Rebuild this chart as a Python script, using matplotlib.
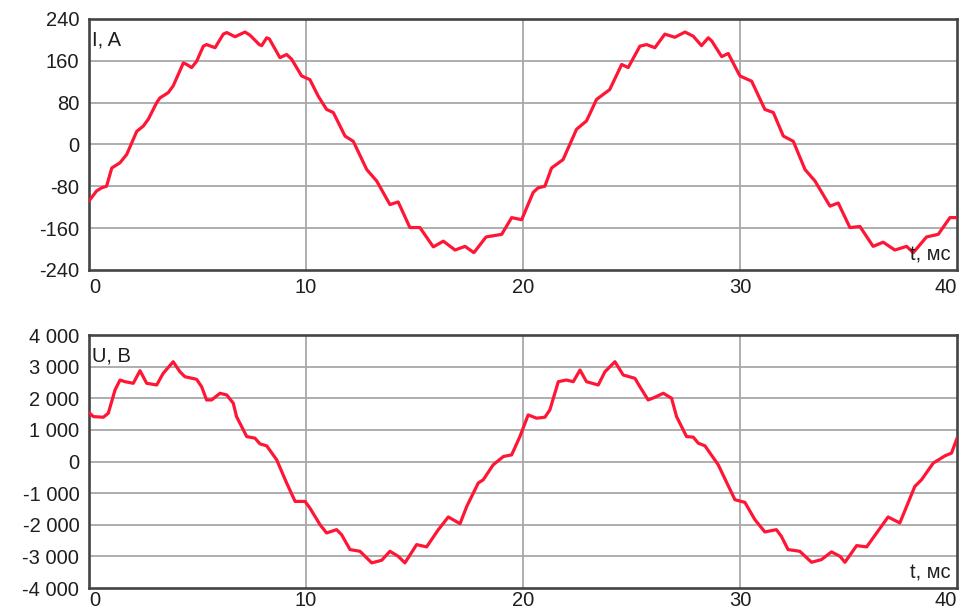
import matplotlib
matplotlib.use('Agg')
import matplotlib.pyplot as plt

# current
t_i = [0, 0.35, 0.58, 0.81, 1.05, 1.43, 1.74, 1.97, 2.2, 2.5, 2.73, 3.12, 3.27, 3.65, 3.88,
       4.35, 4.5, 4.73, 4.96, 5.27, 5.42, 5.81, 6.19, 6.35, 6.73, 7.19, 7.42, 7.85, 7.96,
       8.19, 8.31, 8.8, 9.11, 9.34, 9.8, 10.18, 10.57, 10.95, 11.26, 11.8, 12.18, 12.8,
       13.26, 13.87, 14.25, 14.79, 15.25, 15.87, 16.33, 16.87, 17.33, 17.74, 18.3, 19.02,
       19.48, 19.94, 20.47, 20.7, 21.01, 21.32, 21.85, 22.47, 22.93, 23.39, 24.0, 24.55,
       24.85, 25.39, 25.7, 26.08, 26.54, 27.0, 27.47, 27.85, 28.23, 28.54, 28.7, 29.16,
       29.46, 30.0, 30.54, 31.15, 31.54, 32.0, 32.46, 33.0, 33.46, 34.15, 34.53, 35.07,
       35.53, 36.14, 36.6, 37.14, 37.68, 37.99, 38.6, 39.14, 39.68, 40.0]
i_vals = [-108, -89, -83, -80, -45, -35, -19, 3, 25, 35, 48, 80, 89, 99, 112,
          156, 153, 147, 159, 188, 191, 185, 211, 214, 206, 215, 209, 191, 189,
          204, 202, 166, 172, 163, 131, 124, 92, 67, 61, 16, 6, -48,
          -70, -115, -110, -159, -159, -196, -185, -202, -195, -207, -177, -172,
          -140, -144, -92, -83, -80, -45, -29, 29, 45, 86, 105, 153,
          147, 188, 191, 185, 211, 205, 215, 207, 189, 204, 198, 168,
          174, 131, 121, 67, 61, 16, 6, -48, -70, -118, -112, -159,
          -157, -195, -187, -202, -195, -207, -177, -172, -140, -140]

# voltage
t_u = [0, 0.2, 0.66, 0.89, 1.2, 1.43, 1.66, 2.04, 2.35, 2.66, 3.12, 3.42, 3.88, 4.19,
       4.42, 4.96, 5.19, 5.42, 5.65, 6.04, 6.35, 6.65, 6.8, 7.27, 7.65, 7.88, 8.19, 8.65,
       9.11, 9.5, 9.96, 10.18, 10.65, 10.95, 11.41, 11.64, 12.03, 12.49, 13.03, 13.49,
       13.87, 14.25, 14.56, 15.1, 15.56, 16.1, 16.56, 17.1, 17.41, 17.94, 18.17, 18.63,
       19.1, 19.48, 19.86, 20.24, 20.63, 21.01, 21.24, 21.63, 22.0, 22.32, 22.63, 22.93,
       23.47, 23.78, 24.24, 24.62, 25.16, 25.39, 25.77, 26.08, 26.47, 26.85, 27.08, 27.54,
       27.85, 28.08, 28.39, 29.0, 29.77, 30.23, 30.69, 31.15, 31.68, 31.91, 32.22, 32.76,
       33.3, 33.76, 34.22, 34.61, 34.84, 35.38, 35.84, 36.83, 37.37, 38.06, 38.37, 38.91,
       39.45, 39.75, 40.0]
u_vals = [1546, 1420, 1400, 1527, 2262, 2577, 2524, 2473, 2871, 2473, 2420, 2789, 3155, 2839,
          2681, 2599, 2366, 1946, 1946, 2158, 2104, 1842, 1420, 789, 738, 558, 495, 54,
          -681, -1262, -1262, -1470, -2000, -2259, -2155, -2312, -2785, -2839, -3205, -3123,
          -2839, -2997, -3205, -2628, -2700, -2155, -1754, -1965, -1420, -681, -577, -104,
          158, 211, 789, 1473, 1369, 1400, 1631, 2524, 2577, 2524, 2893, 2524,
          2420, 2839, 3155, 2735, 2631, 2366, 1946, 2031, 2158, 2000, 1420, 789,
          770, 580, 495, -104, -1208, -1293, -1839, -2227, -2155, -2366, -2785, -2839,
          -3186, -3101, -2858, -2997, -3186, -2659, -2700, -1754, -1943, -789, -577, -50,
          180, 265, 720]

x_ticks = [0, 10, 20, 30, 40]
i_ticks = [-240, -160, -80, 0, 80, 160, 240]
u_ticks = [-4000, -3000, -2000, -1000, 0, 1000, 2000, 3000, 4000]
u_labels = ['-4 000', '-3 000', '-2 000', '-1 000', '0', '1 000', '2 000', '3 000', '4 000']

plt.rcParams['font.family'] = ['Liberation Sans', 'DejaVu Sans']
red = '#ff1535'
grid_col = '#a8a8a8'
spine_col = '#444444'
txt_col = '#1e1e1e'

fig = plt.figure(figsize=(9.59, 6.12), dpi=100)
ax1 = fig.add_axes([0.0928, 0.559, 0.905, 0.41])
ax2 = fig.add_axes([0.0928, 0.0392, 0.905, 0.4134])


def style(ax, yticks, ylabels, ylim, ylab, xpad):
    ax.set_xlim(0, 40)
    ax.set_ylim(*ylim)
    ax.set_yticks(yticks)
    ax.set_yticklabels(ylabels)
    ax.set_xticks(x_ticks)
    labs = ax.set_xticklabels([str(v) for v in x_ticks])
    labs[0].set_ha('left')
    labs[-1].set_ha('right')
    ax.tick_params(length=0, labelsize=14.5, colors=txt_col)
    ax.tick_params(axis='y', pad=7)
    ax.tick_params(axis='x', pad=xpad)
    for y in yticks[1:-1]:
        ax.axhline(y, color=grid_col, lw=1.3, zorder=1)
    for x in x_ticks[1:-1]:
        ax.axvline(x, color=grid_col, lw=1.3, zorder=1)
    for s in ax.spines.values():
        s.set_color(spine_col)
        s.set_linewidth(1.9)
    ax.text(0.004, 0.955, ylab, transform=ax.transAxes, ha='left', va='top',
            fontsize=14.5, color=txt_col, zorder=5)
    ax.text(0.993, 0.02, 't, мс', transform=ax.transAxes, ha='right', va='bottom',
            fontsize=14.5, color=txt_col, zorder=5)


ax1.plot(t_i, i_vals, color=red, lw=2.3, zorder=3)
style(ax1, i_ticks, [str(v) for v in i_ticks], (-240, 240), 'I, A', 6)

ax2.plot(t_u, u_vals, color=red, lw=2.3, zorder=3)
style(ax2, u_ticks, u_labels, (-4000, 4000), 'U, B', 2)

plt.savefig('out.png', dpi=100)
